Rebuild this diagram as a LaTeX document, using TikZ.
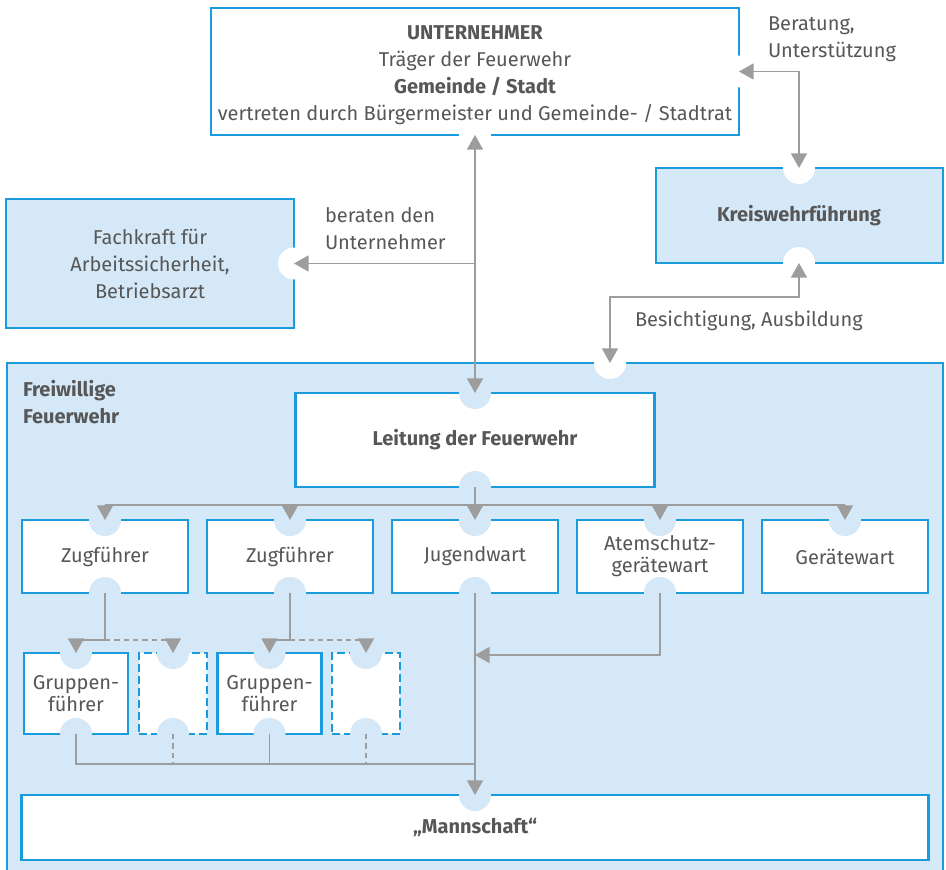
\documentclass[tikz,border=0pt]{standalone}
\usepackage{fontspec}
\setmainfont{Fira Sans}
\usetikzlibrary{arrows.meta,calc}

\definecolor{fwblue}{HTML}{1A9BDB}
\definecolor{fwlight}{HTML}{D4E8F8}
\definecolor{fwgrey}{HTML}{9D9D9D}
\definecolor{fwtext}{HTML}{575757}
\newcommand\fwfont{\fontsize{15}{20.25}\selectfont}
\newcommand\fwsmall{\fontsize{15}{16.5}\selectfont}

\begin{document}
\begin{tikzpicture}[x=0.75pt, y=-0.75pt,
    every node/.style={text=fwtext, font=\fwfont, inner sep=0pt, outer sep=0pt, align=center},
    outerbox/.style={draw=fwblue, line width=1.5pt, fill=white},
    innerbox/.style={draw=fwblue, line width=1.8pt, fill=white},
    rowbox/.style={innerbox, minimum width=124.5pt, minimum height=54.75pt, font=\fwsmall},
    grpbox/.style={innerbox, minimum width=78pt, minimum height=60.75pt, font=\fwsmall},
    emptybox/.style={innerbox, minimum width=51pt, minimum height=60.75pt, dash pattern=on 6pt off 3pt},
    lbl/.style={anchor=north west, align=left},
    conn/.style={draw=fwgrey, line width=1.3pt, -, >={Triangle[width=12pt,length=11pt]}},
    dashline/.style={dash pattern=on 4pt off 3pt}]
    \useasboundingbox (0,0) rectangle (946,870);

    \node[outerbox, fill=fwlight, minimum width=702pt, minimum height=402.75pt] (ffw) at (475,631.5) {};
    \node[outerbox, minimum width=396pt, minimum height=95.25pt] (untern) at (475,71.5) {};
    \node (unterntxt) at (475,75)
        {\textbf{UNTERNEHMER}\\Träger der Feuerwehr\\\textbf{Gemeinde / Stadt}\\vertreten durch Bürgermeister und Gemeinde- / Stadtrat};
    \node[outerbox, fill=fwlight, minimum width=215.25pt, minimum height=71.25pt] (kreis) at (799,215.5) {\textbf{Kreiswehrführung}};
    \node[outerbox, fill=fwlight, minimum width=216pt, minimum height=96.75pt] (fach) at (150,263.5)
        {Fachkraft für\\Arbeitssicherheit,\\Betriebsarzt};
    \coordinate (ffwin) at (610,363);

    \node[lbl, font=\fwfont\bfseries] (ffwlbl) at (23,380) {Freiwillige\\Feuerwehr};
    \node[innerbox, minimum width=269.25pt, minimum height=70.5pt, font=\fwfont\bfseries] (leit) at (475,440) {Leitung der Feuerwehr};
    \foreach \nm/\xx/\txt in {zug1/105/Zugführer, zug2/290/Zugführer, jugend/475/Jugendwart,
                              atem/660/{Atemschutz-\\gerätewart}, geraet/845/Gerätewart}
        \node[rowbox] (\nm) at (\xx,556.5) {\txt};
    \node[grpbox] (grp1) at (76,693.5) {Gruppen-\\führer};
    \node[emptybox] (leer1) at (173,693.5) {};
    \node[grpbox] (grp2) at (269.5,693.5) {Gruppen-\\führer};
    \node[emptybox] (leer2) at (366,693.5) {};
    \node[innerbox, minimum width=680.25pt, minimum height=48.75pt, font=\fwfont\bfseries] (mann) at (475,827.5) {„Mannschaft“};

    \foreach \pt in {untern.south, untern.east, kreis.north, kreis.south, fach.east, ffwin}
        \fill[white] (\pt) circle[radius=12pt];
    \foreach \pt in {leit.north, leit.south, zug1.north, zug2.north, jugend.north, atem.north, geraet.north,
                     zug1.south, zug2.south, jugend.south, atem.south, grp1.north, leer1.north, grp2.north,
                     leer2.north, grp1.south, leer1.south, grp2.south, leer2.south, mann.north}
        \fill[fwlight] (\pt) circle[radius=12pt];

    \draw[conn, <->] (untern.south) -- (leit.north);
    \draw[conn, ->] (fach.east -| untern.south) -- (fach.east);
    \draw[conn, <->] (untern.east) -| (kreis.north);
    \draw[conn, <->] (ffwin) |- ($(kreis.south)+(0,34)$) -- (kreis.south);

    \coordinate (verteil) at ($(leit.south)+(0,18)$);
    \draw[conn] (leit.south) -- (verteil);
    \draw[conn] (zug1.north |- verteil) -- (geraet.north |- verteil);
    \foreach \nm in {zug1, zug2, jugend, atem, geraet}
        \draw[conn, ->] (\nm.north |- verteil) -- (\nm.north);

    \coordinate (zv1) at ($(zug1.south)+(0,47)$);
    \coordinate (zv2) at ($(zug2.south)+(0,47)$);
    \draw[conn, ->] (zug1.south) |- (grp1.north |- zv1) -- (grp1.north);
    \draw[conn, dashline, ->] (zv1) -| (leer1.north);
    \draw[conn, ->] (zug2.south) |- (grp2.north |- zv2) -- (grp2.north);
    \draw[conn, dashline, ->] (zv2) -| (leer2.north);

    \draw[conn, ->] (atem.south) |- ($(jugend.south)+(0,62)$);
    \draw[conn, ->] (jugend.south) -- (mann.north);

    \coordinate (sammel) at ($(grp1.south)+(0,30)$);
    \draw[conn] (grp1.south) |- (jugend.south |- sammel);
    \draw[conn] (grp2.south) -- (grp2.south |- sammel);
    \draw[conn, dashline] (leer1.south) -- (leer1.south |- sammel);
    \draw[conn, dashline] (leer2.south) -- (leer2.south |- sammel);

    \node[lbl] (beratlbl) at (768,17) {Beratung,\\Unterstützung};
    \node[lbl] (beratenlbl) at (325,207) {beraten den\\Unternehmer};
    \node[lbl] (besichtlbl) at (635,311) {Besichtigung, Ausbildung};
\end{tikzpicture}
\end{document}
